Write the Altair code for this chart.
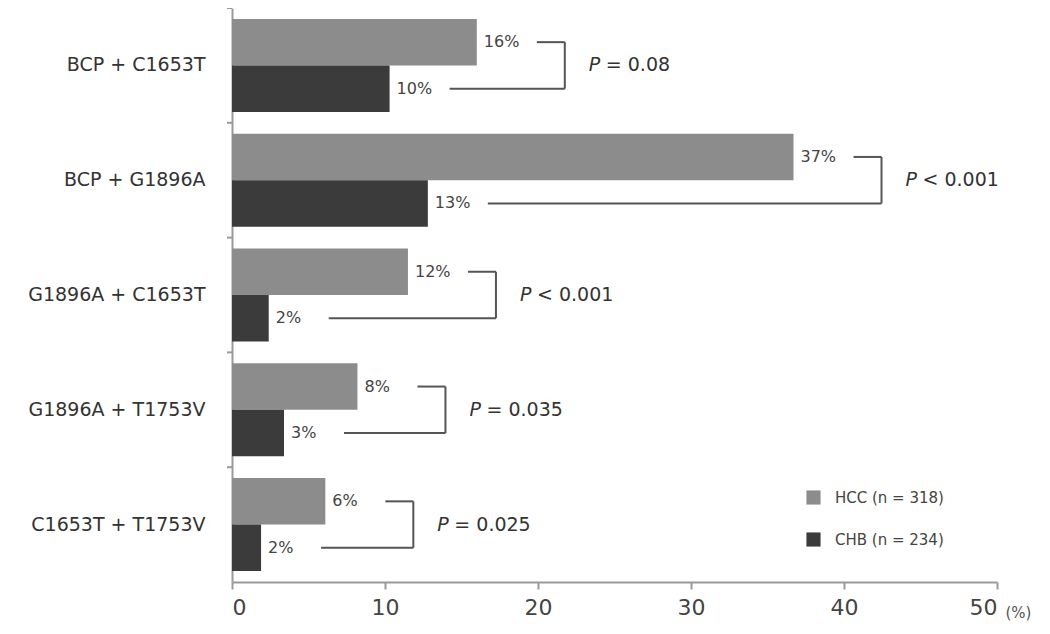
import altair as alt
import pandas as pd

categories = ["BCP + C1653T", "BCP + G1896A", "G1896A + C1653T", "G1896A + T1753V", "C1653T + T1753V"]
series = ["HCC", "CHB"]
legend_labels = ["HCC (n = 318)", "CHB (n = 234)"]
hcc_values = [16.0, 36.7, 11.5, 8.2, 6.1]
chb_values = [10.3, 12.8, 2.4, 3.4, 1.9]
hcc_labels = ["16%", "37%", "12%", "8%", "6%"]
chb_labels = ["10%", "13%", "2%", "3%", "2%"]
p_texts = ["= 0.08", "< 0.001", "< 0.001", "= 0.035", "= 0.025"]
x_ticks = [0, 10, 20, 30, 40, 50]

rows = []
for i, c in enumerate(categories):
    rows.append(dict(cat=c, series="HCC", legend=legend_labels[0], value=hcc_values[i],
                     label=hcc_labels[i], hccv=hcc_values[i], p=p_texts[i]))
    rows.append(dict(cat=c, series="CHB", legend=legend_labels[1], value=chb_values[i],
                     label=chb_labels[i], hccv=hcc_values[i], p=p_texts[i]))
df = pd.DataFrame(rows)

W, H = 765, 574
PI, PO = 0.19, 0.095
step = H / (len(categories) - PI + 2 * PO)
bw = step * (1 - PI)
sub = bw / 4.0
FONT = "DejaVu Sans"
LINE = "#555555"
BR_OFF = 88  # bracket distance from the HCC bar end (px)
LINE_START = 60

yenc = alt.Y("cat:N", sort=categories,
             scale=alt.Scale(paddingInner=PI, paddingOuter=PO),
             axis=alt.Axis(title=None, ticks=False, labelFontSize=19, labelColor="#333333",
                           labelPadding=27, labelLimit=400, labelFont=FONT,
                           domainColor="#9a9a9a", domainWidth=2))
yoff = alt.YOffset("legend:N", sort=legend_labels, scale=alt.Scale(paddingInner=0, paddingOuter=0))
xscale = alt.Scale(domain=[0, 50], nice=False)

base = alt.Chart(df)

bars = base.mark_bar().encode(
    x=alt.X("value:Q", scale=xscale,
            axis=alt.Axis(values=x_ticks, title="(%)", titleFontSize=15, titleFontWeight="normal",
                          titleColor="#555555", titleX=773, titleY=30, titleAngle=0,
                          titleAlign="left", titleBaseline="middle", titleFont=FONT,
                          labelFontSize=22, labelColor="#444444", labelFont=FONT, labelPadding=8,
                          grid=False, domainColor="#9a9a9a", domainWidth=2,
                          tickColor="#9a9a9a", tickWidth=2, tickSize=7)),
    y=yenc,
    yOffset=yoff,
    color=alt.Color("legend:N", sort=legend_labels,
                    scale=alt.Scale(domain=legend_labels, range=["#8c8c8c", "#3b3b3b"]),
                    legend=alt.Legend(title=None, orient="none", legendX=574, legendY=482,
                                      symbolType="square", symbolSize=200, symbolStrokeWidth=0,
                                      labelFontSize=15, labelColor="#444444", labelFont=FONT,
                                      rowPadding=26, labelOffset=14)),
)

value_text = base.mark_text(align="left", baseline="middle", dx=7, fontSize=16,
                            color="#444444", font=FONT).encode(
    x=alt.X("value:Q", scale=xscale), y=alt.Y("cat:N", sort=categories), yOffset=yoff, text="label:N")

hrules = base.mark_rule(color=LINE, strokeWidth=2, xOffset=LINE_START, x2Offset=BR_OFF).encode(
    x=alt.X("value:Q", scale=xscale), x2="hccv:Q",
    y=alt.Y("cat:N", sort=categories), yOffset=yoff)

hcc_only = base.transform_filter(alt.datum.series == "HCC")

vrules = hcc_only.mark_rule(color=LINE, strokeWidth=2, xOffset=BR_OFF,
                            yOffset=-sub, y2Offset=sub).encode(
    x=alt.X("hccv:Q", scale=xscale), y=alt.Y("cat:N", sort=categories), y2="cat:N")

p_italic = hcc_only.mark_text(align="left", baseline="middle", dx=BR_OFF + 24, fontSize=19,
                              fontStyle="italic", color="#333333", font=FONT).encode(
    x=alt.X("hccv:Q", scale=xscale), y=alt.Y("cat:N", sort=categories), text=alt.value("P"))

p_rest = hcc_only.mark_text(align="left", baseline="middle", dx=BR_OFF + 24 + 17, fontSize=19,
                            color="#333333", font=FONT).encode(
    x=alt.X("hccv:Q", scale=xscale), y=alt.Y("cat:N", sort=categories), text="p:N")

yticks = hcc_only.mark_rule(color="#9a9a9a", strokeWidth=2, yOffset=-step / 2).encode(
    x=alt.value(-5), x2=alt.value(0), y=alt.Y("cat:N", sort=categories))

chart = alt.layer(bars, value_text, hrules, vrules, p_italic, p_rest, yticks).properties(
    width=W, height=H,
    autosize=alt.AutoSizeParams(type="none"),
    padding={"left": 224, "top": 0, "right": 45, "bottom": 44},
    background="white",
).configure_view(stroke=None)

chart.save("out.html", embed_options={"renderer": "svg", "actions": False})
